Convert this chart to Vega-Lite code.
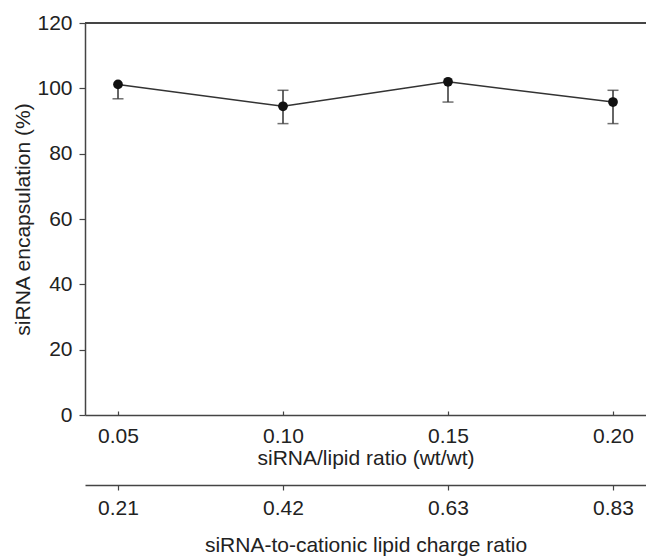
{
  "$schema": "https://vega.github.io/schema/vega-lite/v6.json",
  "width": 561,
  "height": 392,
  "autosize": {"type": "none"},
  "padding": {"left": 85, "top": 23, "right": 0, "bottom": 141},
  "background": "white",
  "config": {
    "view": {"stroke": null},
    "font": "Liberation Sans",
    "axis": {
      "labelFont": "Liberation Sans",
      "titleFont": "Liberation Sans",
      "labelFontSize": 21,
      "titleFontSize": 21,
      "titleFontWeight": "normal",
      "labelColor": "#222",
      "titleColor": "#222",
      "domainColor": "#444",
      "tickColor": "#444",
      "domainWidth": 1.5,
      "tickWidth": 1.2,
      "grid": false
    }
  },
  "data": {
    "values": [
      {"ratio": 0.05, "mean": 101.2, "lower": 96.8, "upper": 101.2},
      {"ratio": 0.10, "mean": 94.5, "lower": 89.2, "upper": 99.4},
      {"ratio": 0.15, "mean": 102.0, "lower": 95.8, "upper": 102.0},
      {"ratio": 0.20, "mean": 95.8, "lower": 89.2, "upper": 99.4}
    ]
  },
  "resolve": {"axis": {"x": "independent"}},
  "layer": [
    {
      "mark": {"type": "rule", "color": "#444", "strokeWidth": 1.5},
      "encoding": {"y": {"datum": 120, "type": "quantitative"}}
    },
    {
      "mark": {"type": "rule", "color": "#333", "strokeWidth": 1.5},
      "encoding": {
        "x": {
          "field": "ratio", "type": "quantitative",
          "scale": {"domain": [0.04, 0.21], "nice": false, "zero": false},
          "axis": {
            "orient": "bottom",
            "title": "siRNA-to-cationic lipid charge ratio",
            "values": [0.05, 0.1, 0.15, 0.2],
            "labelExpr": "round(datum.value*100) == 5 ? '0.21' : round(datum.value*100) == 10 ? '0.42' : round(datum.value*100) == 15 ? '0.63' : '0.83'",
            "offset": 70,
            "tickSize": 5,
            "labelPadding": 7,
            "titlePadding": 16
          }
        },
        "y": {"field": "lower", "type": "quantitative"},
        "y2": {"field": "upper"}
      }
    },
    {
      "transform": [{"filter": "datum.upper > datum.mean"}],
      "mark": {"type": "tick", "orient": "horizontal", "color": "#333", "thickness": 1.5, "size": 11},
      "encoding": {
        "x": {"field": "ratio", "type": "quantitative", "axis": null},
        "y": {"field": "upper", "type": "quantitative"}
      }
    },
    {
      "mark": {"type": "tick", "orient": "horizontal", "color": "#333", "thickness": 1.5, "size": 11},
      "encoding": {
        "x": {"field": "ratio", "type": "quantitative", "axis": null},
        "y": {"field": "lower", "type": "quantitative"}
      }
    },
    {
      "mark": {"type": "line", "color": "#333", "strokeWidth": 1.5},
      "encoding": {
        "x": {"field": "ratio", "type": "quantitative", "axis": null},
        "y": {"field": "mean", "type": "quantitative"}
      }
    },
    {
      "mark": {"type": "circle", "color": "#111", "opacity": 1, "size": 95},
      "encoding": {
        "x": {
          "field": "ratio", "type": "quantitative",
          "axis": {
            "orient": "bottom",
            "title": "siRNA/lipid ratio (wt/wt)",
            "values": [0.05, 0.1, 0.15, 0.2],
            "format": ".2f",
            "tickSize": -4,
            "labelPadding": 14,
            "titlePadding": 1
          }
        },
        "y": {
          "field": "mean", "type": "quantitative",
          "scale": {"domain": [0, 120], "nice": false},
          "axis": {
            "title": "siRNA encapsulation (%)",
            "values": [0, 20, 40, 60, 80, 100, 120],
            "tickSize": 6,
            "labelPadding": 7,
            "titlePadding": 3
          }
        }
      }
    }
  ]
}
